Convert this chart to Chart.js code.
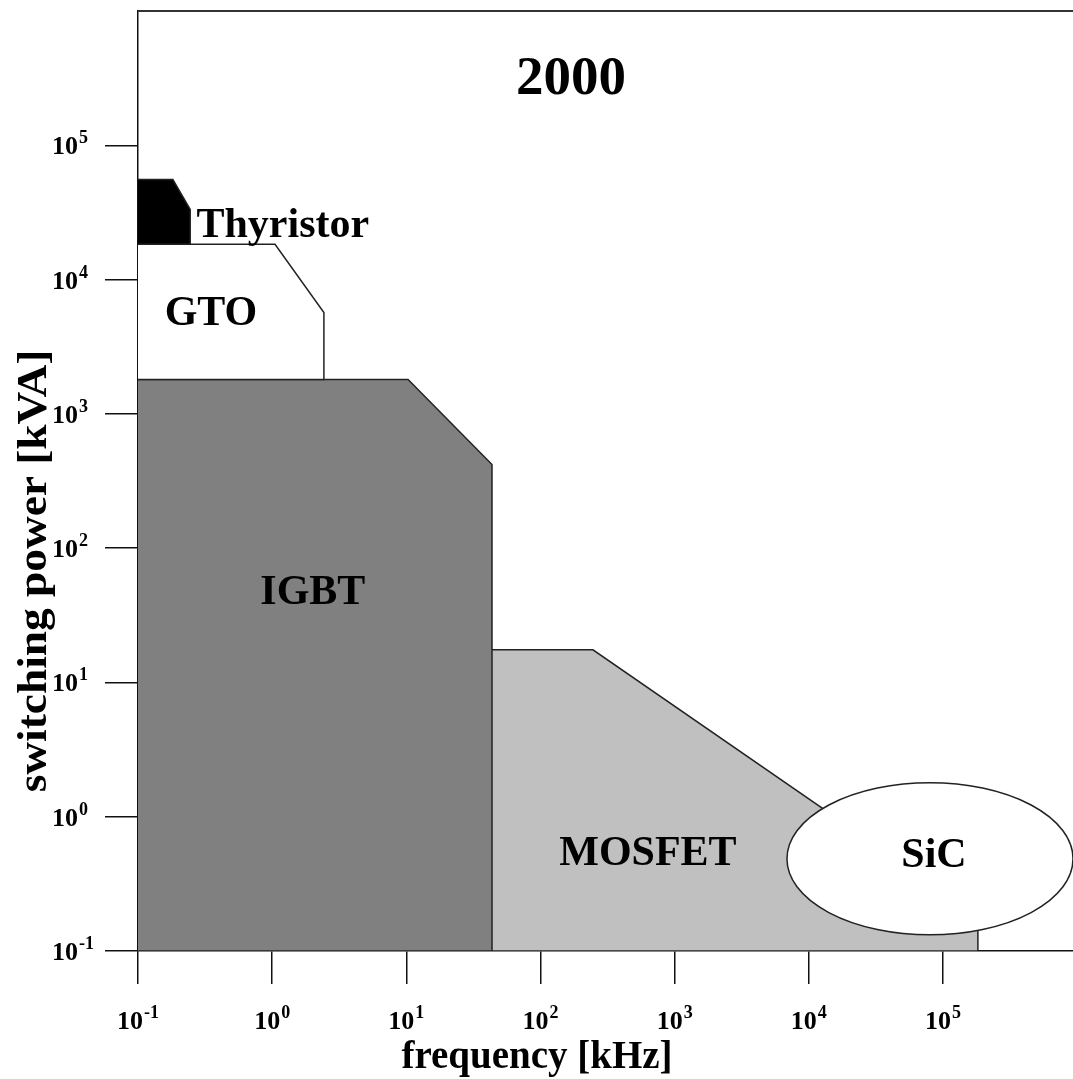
<!DOCTYPE html>
<html><head><meta charset="utf-8">
<script src="https://cdn.jsdelivr.net/npm/chart.js@4.4.1/dist/chart.umd.min.js"></script>
<style>html,body{margin:0;padding:0;background:#fff;overflow:hidden}#wrap{width:1073px;height:1079px;position:relative}</style>
</head><body><div id="wrap"><canvas id="c"></canvas></div>
<script>
// ---- data (frequency in kHz, switching power in kVA) ----
const thyristorFreq  = [0.1, 0.182, 0.245, 0.245, 0.1];
const thyristorPower = [55700, 55700, 33300, 18300, 18300];
const gtoFreq  = [0.1, 1.05, 2.43, 2.43, 0.1];
const gtoPower = [18300, 18300, 5690, 1800, 1800];
const igbtFreq  = [0.1, 10.3, 43.5, 43.5, 0.1];
const igbtPower = [1800, 1800, 419, 0.1, 0.1];
const mosfetFreq  = [43.5, 246, 182000, 182000, 43.5];
const mosfetPower = [17.5, 17.5, 0.183, 0.1, 0.1];
const sicFreqRange  = [6870, 931000];
const sicPowerRange = [0.132, 1.79];

const xTickValues = [0.1, 1, 10, 100, 1000, 10000, 100000];
const xTickExps   = ['-1', '0', '1', '2', '3', '4', '5'];
const yTickValues = [0.1, 1, 10, 100, 1000, 10000, 100000];
const yTickExps   = ['-1', '0', '1', '2', '3', '4', '5'];

const regionNames   = ['Thyristor', 'GTO', 'IGBT', 'MOSFET', 'SiC'];
const labelFreq     = [1.2, 0.35, 2.01, 632, 85700];
const labelPower    = [20800, 4590, 38.4, 0.436, 0.423];
const chartYear = '2000';
const yearFreq = 169, yearPower = 241000;

const xTitle = 'frequency [kHz]';
const yTitle = 'switching power [kVA]';

const FONT = '"Liberation Serif", "Times New Roman", serif';

function pts(xs, ys){ return xs.map((x,i)=>({x:x, y:ys[i]})); }
function poly(label, xs, ys, fillColor){
  return { label, data: pts(xs, ys), showLine: true, fill: 'shape',
    backgroundColor: fillColor, borderColor: '#222', borderWidth: 1.5,
    pointRadius: 0, pointHoverRadius: 0, tension: 0 };
}

function drawPow(ctx, exp, x, y, center){
  ctx.font = 'bold 26px ' + FONT;
  const w1 = ctx.measureText('10').width;
  ctx.font = 'bold 18px ' + FONT;
  const w2 = ctx.measureText(exp).width;
  const total = w1 + 1 + w2;
  const sx = center ? x - total/2 : x;
  ctx.textAlign = 'left'; ctx.textBaseline = 'alphabetic';
  ctx.font = 'bold 26px ' + FONT;
  ctx.fillText('10', sx, y);
  ctx.font = 'bold 18px ' + FONT;
  ctx.fillText(exp, sx + w1 + 1, y - 11);
}

const annot = {
  id: 'annot',
  afterDatasetsDraw(chart){
    const ctx = chart.ctx, xs = chart.scales.x, ys = chart.scales.y;
    const x1 = xs.getPixelForValue(sicFreqRange[0]), x2 = xs.getPixelForValue(sicFreqRange[1]);
    const y1 = ys.getPixelForValue(sicPowerRange[1]), y2 = ys.getPixelForValue(sicPowerRange[0]);
    ctx.save();
    ctx.beginPath();
    ctx.ellipse((x1+x2)/2, (y1+y2)/2, (x2-x1)/2, (y2-y1)/2, 0, 0, Math.PI*2);
    ctx.fillStyle = '#fff'; ctx.fill();
    ctx.lineWidth = 1.5; ctx.strokeStyle = '#222'; ctx.stroke();
    ctx.restore();
  },
  afterDraw(chart){
    const ctx = chart.ctx, xs = chart.scales.x, ys = chart.scales.y, a = chart.chartArea;
    ctx.save();
    // top frame line
    ctx.strokeStyle = '#333'; ctx.lineWidth = 2;
    ctx.beginPath(); ctx.moveTo(a.left, a.top); ctx.lineTo(a.right, a.top); ctx.stroke();
    ctx.fillStyle = '#000';
    // tick labels
    xTickValues.forEach((v,i)=>drawPow(ctx, xTickExps[i], xs.getPixelForValue(v), 1029, true));
    yTickValues.forEach((v,i)=>drawPow(ctx, yTickExps[i], 52, ys.getPixelForValue(v) + 9, false));
    // region labels
    ctx.textAlign = 'center'; ctx.textBaseline = 'alphabetic';
    ctx.font = 'bold 42px ' + FONT;
    regionNames.forEach((n,i)=>{
      ctx.fillText(n, xs.getPixelForValue(labelFreq[i]), ys.getPixelForValue(labelPower[i]));
    });
    ctx.font = 'bold 55px ' + FONT;
    ctx.fillText(chartYear, xs.getPixelForValue(yearFreq), ys.getPixelForValue(yearPower));
    // axis titles
    ctx.font = 'bold 39px ' + FONT;
    ctx.fillText(xTitle, 537, 1068);
    ctx.save();
    ctx.translate(46, 571); ctx.rotate(-Math.PI/2); ctx.scale(1.08, 1);
    ctx.font = 'bold 42px ' + FONT;
    ctx.fillText(yTitle, 0, 0);
    ctx.restore();
    ctx.restore();
  }
};

const axisCommon = {
  type: 'logarithmic',
  ticks: { display: false },
  grid: { display: true, drawOnChartArea: false, drawTicks: true, tickLength: 33, color: '#111', lineWidth: 1.5 },
  border: { display: true, color: '#111', width: 1.5 },
  z: 1
};

new Chart(document.getElementById('c'), {
  type: 'scatter',
  data: { datasets: [
    poly('Thyristor', thyristorFreq, thyristorPower, '#000'),
    poly('GTO', gtoFreq, gtoPower, '#fff'),
    poly('IGBT', igbtFreq, igbtPower, '#808080'),
    poly('MOSFET', mosfetFreq, mosfetPower, '#c0c0c0')
  ]},
  options: {
    responsive: true, maintainAspectRatio: false, animation: false,
    devicePixelRatio: 1,
    layout: { padding: { left: 0, right: 0, top: 11, bottom: 0 } },
    plugins: { legend: { display: false }, tooltip: { enabled: false }, title: { display: false } },
    scales: {
      x: Object.assign({}, axisCommon, {
        position: 'bottom', min: 0.1, max: 931000,
        afterBuildTicks: s => { s.ticks = xTickValues.map(v=>({value:v})); },
        afterFit: s => { s.height = 128; }
      }),
      y: Object.assign({}, axisCommon, {
        position: 'left', min: 0.1, max: 1000000,
        afterBuildTicks: s => { s.ticks = yTickValues.map(v=>({value:v})); },
        afterFit: s => { s.width = 138; }
      })
    }
  },
  plugins: [annot]
});
</script>
</body></html>
